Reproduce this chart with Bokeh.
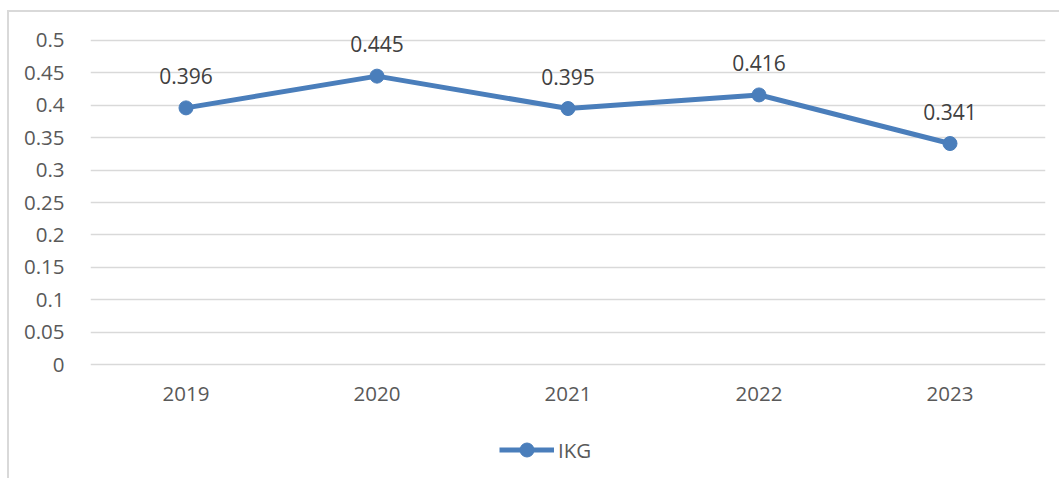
from bokeh.plotting import figure
from bokeh.models import (ColumnDataSource, LabelSet, FixedTicker, Legend, LegendItem, Range1d)
from bokeh.core.properties import value
from bokeh.embed import file_html
from bokeh.resources import INLINE

years = ["2019", "2020", "2021", "2022", "2023"]
ikg = [0.396, 0.445, 0.395, 0.416, 0.341]
ikg_labels = ["0.396", "0.445", "0.395", "0.416", "0.341"]
y_ticks = [0, 0.05, 0.1, 0.15, 0.2, 0.25, 0.3, 0.35, 0.4, 0.45, 0.5]
y_tick_labels = ["0", "0.05", "0.1", "0.15", "0.2", "0.25", "0.3", "0.35", "0.4", "0.45", "0.5"]

FONT = "Open Sans"
LINE_COLOR = "#4a7ebb"

src = ColumnDataSource(dict(x=years, y=ikg, lbl=ikg_labels))

# frame extends below zero so the legend (drawn inside the frame) sits under the x-axis
p = figure(x_range=years, y_range=Range1d(-0.1759, 0.5432), frame_width=955, frame_height=466,
           output_backend="svg", toolbar_location=None,
           min_border_left=81, min_border_top=0, min_border_right=14, min_border_bottom=0)
p.styles = {"border-left": "2px solid #d9d9d9", "border-top": "2px solid #d9d9d9",
            "margin-left": "7px", "margin-top": "10px"}
p.outline_line_color = None
p.background_fill_color = "white"
p.border_fill_color = "white"

p.xgrid.grid_line_color = None
p.ygrid.grid_line_color = "#d9d9d9"
p.ygrid.grid_line_width = 1.5
p.ygrid.ticker = FixedTicker(ticks=y_ticks)

p.yaxis.ticker = FixedTicker(ticks=y_ticks)
p.yaxis.major_label_overrides = {t: l for t, l in zip(y_ticks, y_tick_labels)}
for ax in (p.xaxis[0], p.yaxis[0]):
    ax.axis_line_color = None
    ax.major_tick_line_color = None
    ax.minor_tick_line_color = None
    ax.major_label_text_font = FONT
    ax.major_label_text_font_size = "20.5px"
    ax.major_label_text_color = "#595959"
p.yaxis.major_label_standoff = 20
p.xaxis.fixed_location = 0
p.xaxis.major_label_standoff = 16

line = p.line("x", "y", source=src, line_color=LINE_COLOR, line_width=5)
circ = p.scatter("x", "y", source=src, size=14, fill_color=LINE_COLOR, line_color=LINE_COLOR)

labels = LabelSet(x="x", y="y", text="lbl", source=src, y_offset=24,
                  text_align="center", text_baseline="bottom",
                  text_font=value(FONT), text_font_size="21px", text_color="#404040")
p.add_layout(labels)

legend = Legend(items=[LegendItem(label="IKG", renderers=[line, circ])],
                orientation="horizontal", location=(409, 11),
                label_text_font=FONT, label_text_font_size="20.5px", label_text_color="#595959",
                glyph_width=55, glyph_height=35, border_line_color=None,
                background_fill_alpha=0, padding=0, margin=0, label_standoff=4)
p.add_layout(legend)

open("out.html", "w").write(file_html(p, INLINE))
